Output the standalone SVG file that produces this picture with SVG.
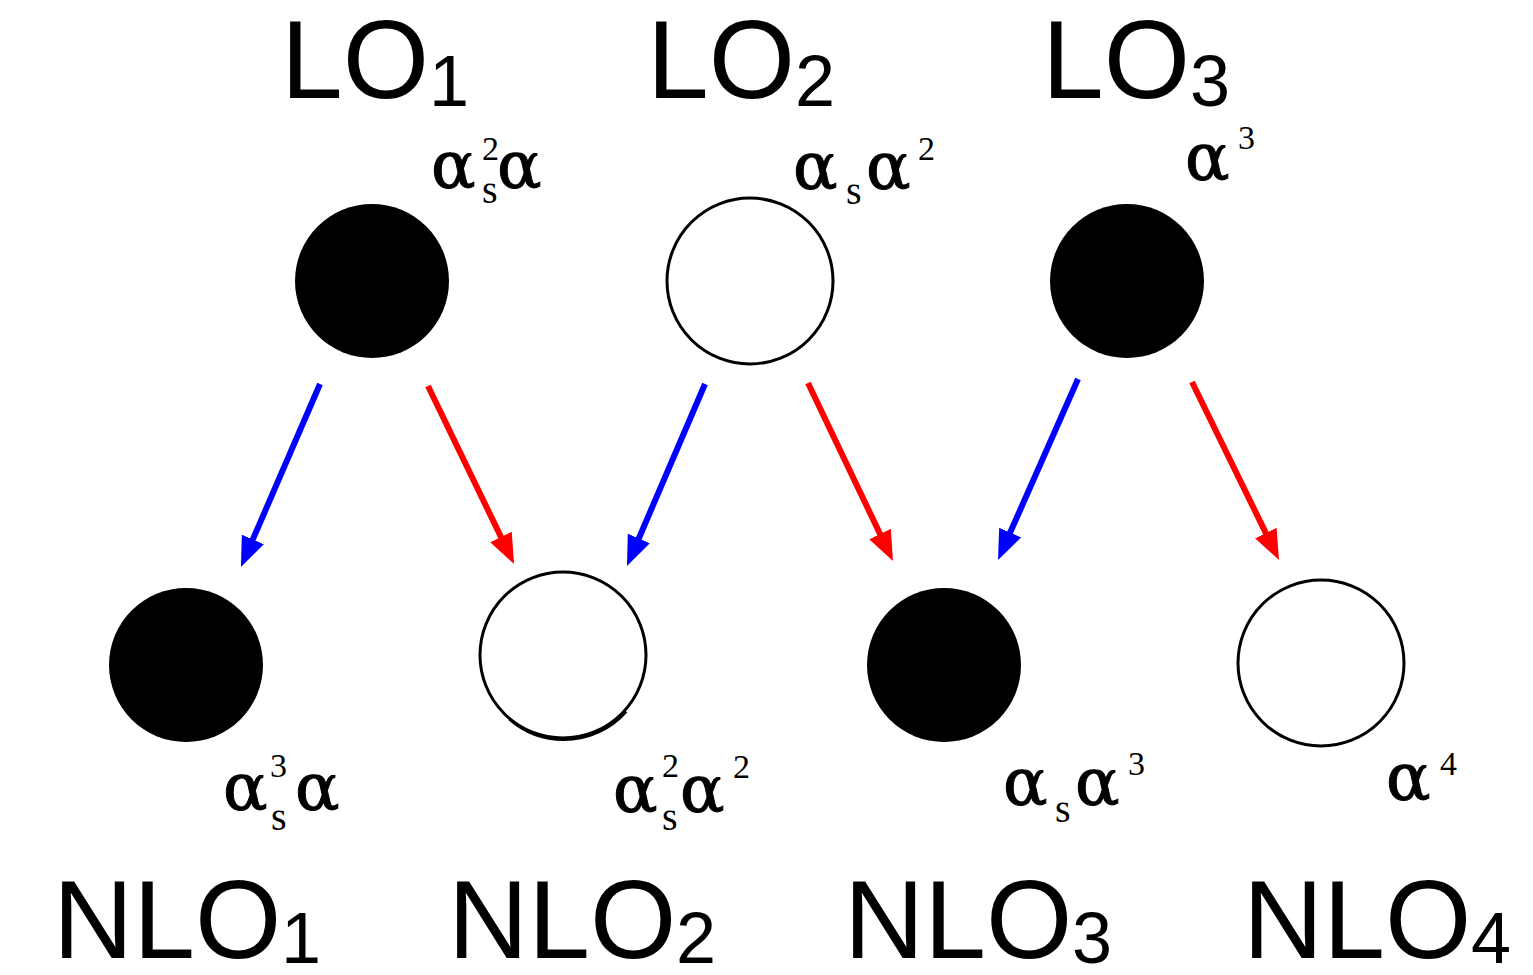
<svg xmlns="http://www.w3.org/2000/svg" width="1533" height="975" viewBox="0 0 1533 975">
<style>
.big{font-family:"Liberation Sans",Arial,sans-serif;font-size:111px;fill:#000}
.sub{font-family:"Liberation Sans",Arial,sans-serif;font-size:72px;fill:#000}
.g{font-family:"DejaVu Serif","Liberation Serif",serif;font-size:66px;fill:#000;stroke:#000;stroke-width:1}
.sup{font-family:"Liberation Serif","Times New Roman",serif;font-size:34px;fill:#000}
.s{font-family:"Liberation Serif","Times New Roman",serif;font-size:40px;fill:#000}
.filled{fill:#000}
.open{fill:#fff;stroke:#000;stroke-width:3}
.blue{stroke:#0000ff;stroke-width:6;fill:none;marker-end:url(#hb)}
.red{stroke:#ff0000;stroke-width:6;fill:none;marker-end:url(#hr)}
</style>
<defs>
<marker id="hb" markerUnits="strokeWidth" markerWidth="5" markerHeight="4" refX="2.5" refY="2" orient="auto" viewBox="0 0 5 4"><path d="M0,0 L5,2 L0,4 z" fill="#0000ff"/></marker>
<marker id="hr" markerUnits="strokeWidth" markerWidth="5" markerHeight="4" refX="2.5" refY="2" orient="auto" viewBox="0 0 5 4"><path d="M0,0 L5,2 L0,4 z" fill="#ff0000"/></marker>
</defs>
<rect width="1533" height="975" fill="#fff"/>

<g id="LO1">
<circle class="filled" cx="372" cy="281" r="77"/>
<text class="big" x="281" y="98">LO</text><text class="sub" x="429" y="106">1</text>
<text class="g" x="431" y="188">α</text><text class="sup" x="482" y="160">2</text><text class="s" x="482" y="203">s</text><text class="g" x="497" y="188">α</text>
</g>
<g id="LO2">
<circle class="open" cx="750" cy="281" r="83"/>
<text class="big" x="647" y="98">LO</text><text class="sub" x="795" y="106">2</text>
<text class="g" x="793" y="189">α</text><text class="s" x="846" y="204">s</text><text class="g" x="866" y="189">α</text><text class="sup" x="918" y="160">2</text>
</g>
<g id="LO3">
<circle class="filled" cx="1127" cy="281" r="77"/>
<text class="big" x="1042" y="98">LO</text><text class="sub" x="1190" y="106">3</text>
<text class="g" x="1185" y="180">α</text><text class="sup" x="1238" y="149">3</text>
</g>

<g id="NLO1">
<circle class="filled" cx="186" cy="665" r="77"/>
<text class="big" x="53" y="958">NLO</text><text class="sub" x="281" y="963">1</text>
<text class="g" x="223" y="810">α</text><text class="sup" x="270" y="777">3</text><text class="s" x="271" y="830">s</text><text class="g" x="295" y="810">α</text>
</g>
<g id="NLO2">
<circle class="open" cx="563" cy="655" r="83"/>
<circle cx="564" cy="656.5" r="83" fill="none" stroke="#000" stroke-width="3" stroke-dasharray="0 60 130 400"/>
<text class="big" x="448" y="958">NLO</text><text class="sub" x="676" y="963">2</text>
<text class="g" x="613" y="812">α</text><text class="sup" x="662" y="777">2</text><text class="s" x="662" y="830">s</text><text class="g" x="680" y="812">α</text><text class="sup" x="733" y="778">2</text>
</g>
<g id="NLO3">
<circle class="filled" cx="944" cy="665" r="77"/>
<text class="big" x="844" y="958">NLO</text><text class="sub" x="1072" y="963">3</text>
<text class="g" x="1003" y="805">α</text><text class="s" x="1055" y="822">s</text><text class="g" x="1075" y="805">α</text><text class="sup" x="1128" y="775">3</text>
</g>
<g id="NLO4">
<circle class="open" cx="1321" cy="663" r="83"/>
<text class="big" x="1243" y="958">NLO</text><text class="sub" x="1471" y="963">4</text>
<text class="g" x="1386" y="800">α</text><text class="sup" x="1440" y="775">4</text>
</g>

<g id="connectors">
<line class="blue" x1="320" y1="384" x2="246.9" y2="553.2"/>
<line class="red" x1="428" y1="386" x2="507.5" y2="550.5"/>
<line class="blue" x1="705" y1="384" x2="632.9" y2="552.2"/>
<line class="red" x1="808" y1="383" x2="886.5" y2="547.5"/>
<line class="blue" x1="1078" y1="379" x2="1004.1" y2="546.3"/>
<line class="red" x1="1192" y1="382" x2="1272.4" y2="546.5"/>
</g>
</svg>
